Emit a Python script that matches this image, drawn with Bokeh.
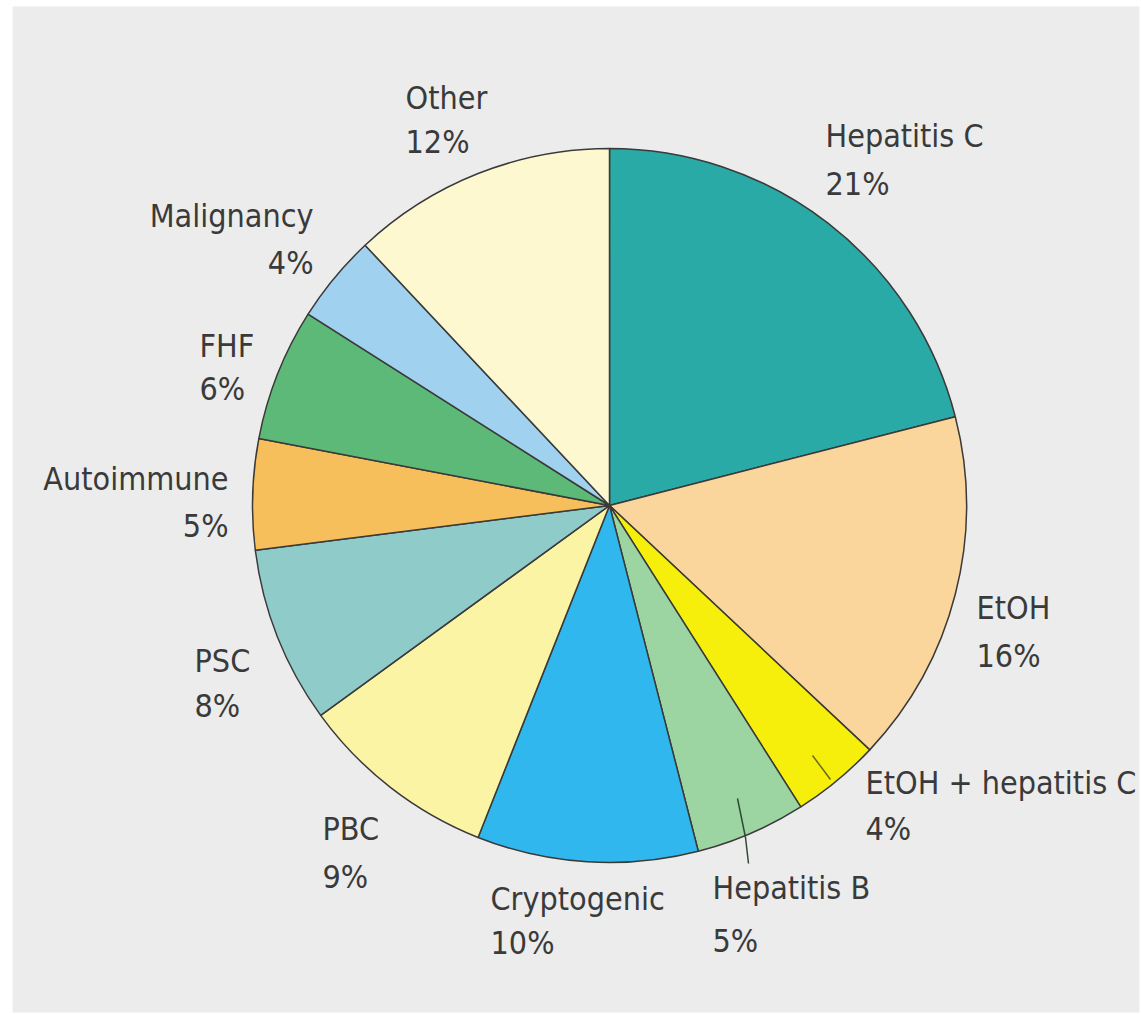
from math import pi
from bokeh.plotting import figure
from bokeh.models import Range1d, ColumnDataSource
from bokeh.core.properties import value
from bokeh.embed import file_html
from bokeh.resources import INLINE

categories = ["Hepatitis C", "EtOH", "EtOH + hepatitis C", "Hepatitis B", "Cryptogenic",
              "PBC", "PSC", "Autoimmune", "FHF", "Malignancy", "Other"]
percents = [21, 16, 4, 5, 10, 9, 8, 5, 6, 4, 12]
colors = ["#2aaaa7", "#fbd69c", "#f6ef0c", "#9cd4a2", "#2fb7ee",
          "#fbf4a4", "#8fcbc9", "#f7bf5c", "#5cb978", "#a0d2f0", "#fdf8d0"]

# label placement (page px): x, first line y, second line y, align
label_x = [825, 976, 865, 712, 490, 322, 194, 228, 199, 313, 405]
label_y1 = [135, 607, 782, 887, 898, 828, 660, 478, 345, 215, 97]
label_y2 = [183, 655, 828, 940, 942, 876, 705, 525, 388, 262, 141]
label_align = ["left", "left", "left", "left", "left", "left", "left",
               "right", "left", "right", "left"]

W, H = 1141, 1015
ML, MT, MR, MB = 12, 6, 2, 3


def dy(page_y):
    return H - page_y


cx, cy, R = 609, 505, 357

p = figure(width=W, height=H, output_backend="svg", toolbar_location=None,
           x_range=Range1d(ML, W - MR), y_range=Range1d(MB, H - MT),
           min_border_left=ML, min_border_top=MT, min_border_right=MR,
           min_border_bottom=MB, outline_line_color=None,
           background_fill_color="#ececec", border_fill_color="white")
p.axis.visible = False
p.grid.visible = False

total = sum(percents)
starts, ends = [], []
cum = 0.0
for v in percents:
    starts.append(pi / 2 - 2 * pi * cum / total)
    cum += v
    ends.append(pi / 2 - 2 * pi * cum / total)

src = ColumnDataSource(dict(start=starts, end=ends, color=colors, cat=categories))
p.wedge(x=cx, y=dy(cy), radius=R, start_angle="start", end_angle="end",
        direction="clock", fill_color="color", line_color="#3a3a3a",
        line_width=1.5, source=src)

# leader lines (page px)
p.line(x=[737, 745, 748], y=[dy(798), dy(837), dy(863)], line_color="#2e4a36", line_width=1.5)
p.line(x=[812, 830], y=[dy(755), dy(779)], line_color="#6b6a10", line_width=1.5)

for i, c in enumerate(categories):
    for txt, yy in ((c, label_y1[i]), (f"{percents[i]}%", label_y2[i])):
        p.text(x=[label_x[i]], y=[dy(yy)], text=[txt], text_align=label_align[i],
               text_baseline="middle", text_font=value("DejaVu Sans Condensed"),
               text_font_size="32px", text_color="#3a3a3a")

open("out.html", "w").write(file_html(p, INLINE))
